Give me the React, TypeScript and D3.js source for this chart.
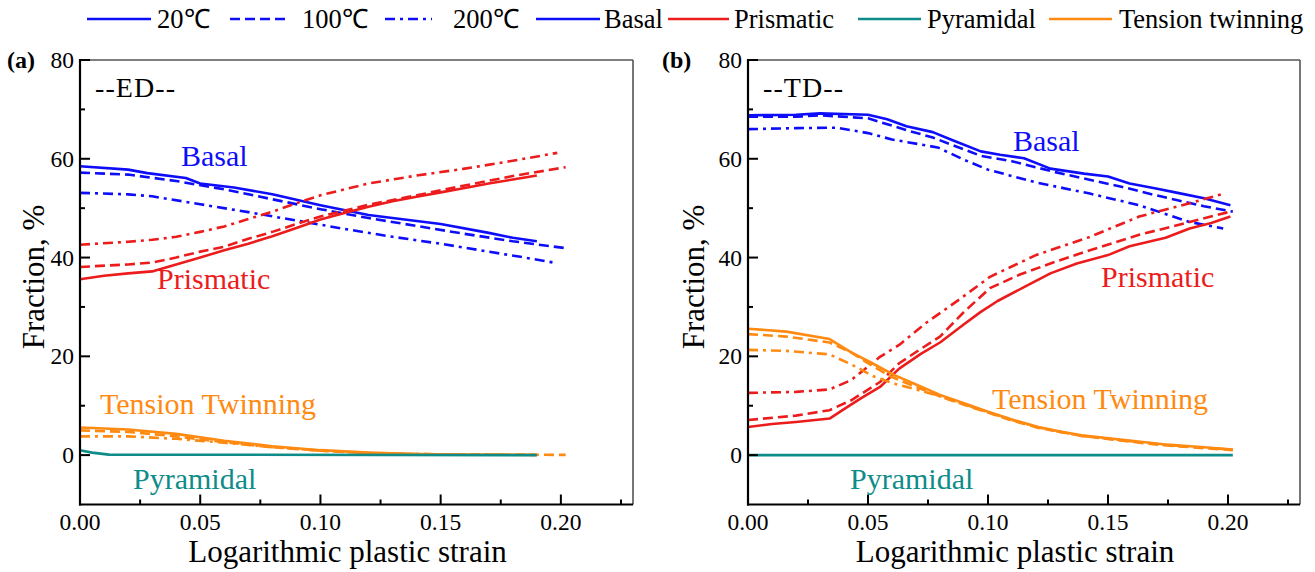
import React from "react";
import * as d3 from "d3";

// ---------- DATA ----------
const X_TICKS = [0, 0.05, 0.1, 0.15, 0.2];
const X_MINOR = [0.025, 0.075, 0.125, 0.175, 0.225];
const Y_TICKS = [0, 20, 40, 60, 80];
const Y_MINOR = [10, 30, 50, 70];

// (a) ED
const edBasal20: [number, number][] = [[0, 58.5], [0.02, 57.8], [0.028, 57.1], [0.044, 56.1], [0.05, 55], [0.064, 54.2], [0.08, 52.8], [0.1, 50.6], [0.12, 48.6], [0.14, 47.4], [0.15, 46.8], [0.17, 45], [0.18, 44], [0.19, 43.3]];
const edBasal100: [number, number][] = [[0, 57.2], [0.02, 56.8], [0.04, 55.5], [0.06, 53.8], [0.08, 51.8], [0.1, 49.8], [0.12, 48], [0.14, 46.4], [0.16, 44.8], [0.18, 43.3], [0.202, 41.9]];
const edBasal200: [number, number][] = [[0, 53.1], [0.02, 52.8], [0.03, 52.4], [0.05, 50.8], [0.07, 49.2], [0.09, 47.5], [0.11, 45.8], [0.13, 44.2], [0.15, 42.8], [0.17, 41.2], [0.185, 40], [0.198, 38.9]];
const edPrism20: [number, number][] = [[0, 35.6], [0.01, 36.3], [0.02, 36.8], [0.03, 37.2], [0.04, 38.6], [0.05, 40], [0.06, 41.5], [0.07, 42.8], [0.08, 44.3], [0.09, 46], [0.1, 47.7], [0.11, 49], [0.12, 50.3], [0.13, 51.4], [0.14, 52.3], [0.15, 53.2], [0.16, 54.1], [0.17, 55], [0.18, 55.8], [0.19, 56.6]];
const edPrism100: [number, number][] = [[0, 38.1], [0.02, 38.6], [0.03, 39], [0.04, 40], [0.05, 41.2], [0.06, 42.2], [0.07, 43.8], [0.08, 45.2], [0.09, 46.8], [0.1, 48.3], [0.12, 50.7], [0.14, 52.6], [0.16, 54.6], [0.18, 56.5], [0.202, 58.3]];
const edPrism200: [number, number][] = [[0, 42.6], [0.02, 43.2], [0.03, 43.6], [0.04, 44.2], [0.05, 45.2], [0.06, 46.3], [0.07, 47.8], [0.08, 49.3], [0.09, 51], [0.1, 52.6], [0.11, 53.8], [0.12, 55], [0.14, 56.6], [0.16, 58], [0.18, 59.6], [0.1985, 61.2]];
const edTwin20: [number, number][] = [[0, 5.6], [0.02, 5.2], [0.04, 4.3], [0.06, 2.9], [0.08, 1.8], [0.1, 1], [0.12, 0.5], [0.14, 0.2], [0.16, 0.1], [0.19, 0.05]];
const edTwin100: [number, number][] = [[0, 5], [0.02, 4.7], [0.04, 3.8], [0.06, 2.6], [0.08, 1.6], [0.1, 0.9], [0.12, 0.4], [0.14, 0.2], [0.17, 0.1], [0.202, 0.05]];
const edTwin200: [number, number][] = [[0, 3.8], [0.02, 3.8], [0.04, 3.3], [0.06, 2.5], [0.08, 1.6], [0.1, 0.9], [0.12, 0.4], [0.14, 0.2], [0.19, 0.05]];
const edPyr: [number, number][] = [[0, 1], [0.005, 0.5], [0.012, 0.1], [0.19, 0]];

// (b) TD
const tdBasal20: [number, number][] = [[0, 68.8], [0.02, 68.9], [0.03, 69.2], [0.05, 68.9], [0.058, 68], [0.066, 66.6], [0.077, 65.4], [0.085, 63.8], [0.097, 61.5], [0.105, 60.8], [0.115, 60.1], [0.126, 58], [0.14, 57], [0.15, 56.4], [0.159, 55], [0.17, 54], [0.179, 53.1], [0.19, 52], [0.201, 50.6]];
const tdBasal100: [number, number][] = [[0, 68.5], [0.02, 68.5], [0.03, 68.8], [0.05, 68.2], [0.066, 65.8], [0.077, 64.3], [0.085, 62.8], [0.097, 60.6], [0.11, 59.5], [0.128, 57.3], [0.14, 56], [0.156, 54.3], [0.17, 52.6], [0.179, 51.6], [0.19, 50.4], [0.202, 49.3]];
const tdBasal200: [number, number][] = [[0, 66], [0.02, 66.2], [0.037, 66.3], [0.05, 65.2], [0.06, 63.9], [0.079, 62.3], [0.09, 59.8], [0.1, 57.8], [0.12, 55.2], [0.142, 53], [0.163, 50.6], [0.184, 47.2], [0.198, 45.9]];
const tdPrism20: [number, number][] = [[0, 5.7], [0.01, 6.3], [0.02, 6.7], [0.034, 7.4], [0.04, 9.3], [0.047, 11.5], [0.055, 13.8], [0.063, 17.5], [0.072, 20.5], [0.08, 22.8], [0.09, 26.5], [0.097, 29], [0.104, 31.2], [0.115, 34], [0.126, 36.8], [0.137, 38.8], [0.15, 40.5], [0.159, 42.3], [0.174, 44], [0.184, 45.9], [0.193, 47], [0.201, 48.3]];
const tdPrism100: [number, number][] = [[0, 7.1], [0.02, 8], [0.034, 9.1], [0.043, 11.1], [0.055, 14.8], [0.063, 18.6], [0.072, 21.5], [0.08, 24], [0.09, 29], [0.1008, 33.8], [0.113, 36.5], [0.126, 38.8], [0.1425, 41.5], [0.163, 44.6], [0.184, 47.2], [0.201, 49.3]];
const tdPrism200: [number, number][] = [[0, 12.6], [0.02, 12.8], [0.034, 13.3], [0.043, 15.2], [0.055, 19.9], [0.063, 22.3], [0.074, 26.7], [0.088, 31.5], [0.1008, 36.1], [0.12, 40.5], [0.1425, 44.2], [0.163, 48.3], [0.184, 51], [0.198, 52.9]];
const tdTwin20: [number, number][] = [[0, 25.6], [0.016, 25], [0.034, 23.5], [0.043, 20.8], [0.051, 18.8], [0.061, 16.2], [0.07, 14.3], [0.08, 12.2], [0.09, 10.5], [0.1, 8.8], [0.11, 7.2], [0.121, 5.7], [0.13, 4.8], [0.139, 4], [0.156, 3.1], [0.173, 2.2], [0.19, 1.6], [0.202, 1.15]];
const tdTwin100: [number, number][] = [[0, 24.5], [0.016, 24], [0.034, 22.8], [0.043, 20.8], [0.051, 18.3], [0.06, 15.8], [0.07, 13.8], [0.08, 11.9], [0.09, 10.2], [0.1, 8.6], [0.11, 7], [0.121, 5.5], [0.13, 4.7], [0.139, 3.9], [0.156, 2.9], [0.173, 2], [0.19, 1.4], [0.202, 1]];
const tdTwin200: [number, number][] = [[0, 21.3], [0.016, 21.1], [0.034, 20.4], [0.045, 17.9], [0.052, 16], [0.06, 14.6], [0.07, 13.3], [0.08, 11.9], [0.09, 10.3], [0.1, 8.7], [0.11, 7.1], [0.121, 5.6], [0.13, 4.7], [0.139, 3.9], [0.156, 3], [0.173, 2.1], [0.19, 1.5], [0.202, 1.1]];
const tdPyr: [number, number][] = [[0, 0], [0.202, 0]];

const LEGEND_TEMPS = ["20\u2103", "100\u2103", "200\u2103"];
const LEGEND_MODES = ["Basal", "Prismatic", "Pyramidal", "Tension twinning"];

// ---------- STYLE ----------
const BLUE = "#0d0dfa";
const RED = "#ec1c1c";
const TEAL = "#0e8c89";
const ORANGE = "#ff8a12";
const FONT = "Liberation Serif, serif";
const DASH = ["", "10,5", "10,5,3,5"];
const LW = 2.6;

type Series = { data: [number, number][]; color: string; dash: string };

const panels = [
  {
    id: "a",
    left: 80, right: 633,
    tag: "(a)", tagX: 7, yTitleX: 44, dir: "--ED--",
    series: [
      { data: edTwin200, color: ORANGE, dash: DASH[2] },
      { data: edTwin100, color: ORANGE, dash: DASH[1] },
      { data: edTwin20, color: ORANGE, dash: DASH[0] },
      { data: edPyr, color: TEAL, dash: DASH[0] },
      { data: edBasal20, color: BLUE, dash: DASH[0] },
      { data: edBasal100, color: BLUE, dash: DASH[1] },
      { data: edBasal200, color: BLUE, dash: DASH[2] },
      { data: edPrism20, color: RED, dash: DASH[0] },
      { data: edPrism100, color: RED, dash: DASH[1] },
      { data: edPrism200, color: RED, dash: DASH[2] },
    ] as Series[],
    labels: [
      { t: "Basal", x: 181, y: 166, c: BLUE },
      { t: "Prismatic", x: 157, y: 289, c: RED },
      { t: "Tension Twinning", x: 100, y: 414, c: ORANGE },
      { t: "Pyramidal", x: 133, y: 489, c: TEAL },
    ],
  },
  {
    id: "b",
    left: 748, right: 1300,
    tag: "(b)", tagX: 662, yTitleX: 704, dir: "--TD--",
    series: [
      { data: tdPyr, color: TEAL, dash: DASH[0] },
      { data: tdBasal20, color: BLUE, dash: DASH[0] },
      { data: tdBasal100, color: BLUE, dash: DASH[1] },
      { data: tdBasal200, color: BLUE, dash: DASH[2] },
      { data: tdPrism20, color: RED, dash: DASH[0] },
      { data: tdPrism100, color: RED, dash: DASH[1] },
      { data: tdPrism200, color: RED, dash: DASH[2] },
      { data: tdTwin200, color: ORANGE, dash: DASH[2] },
      { data: tdTwin100, color: ORANGE, dash: DASH[1] },
      { data: tdTwin20, color: ORANGE, dash: DASH[0] },
    ] as Series[],
    labels: [
      { t: "Basal", x: 1013, y: 151, c: BLUE },
      { t: "Prismatic", x: 1101, y: 287, c: RED },
      { t: "Tension Twinning", x: 992, y: 409, c: ORANGE },
      { t: "Pyramidal", x: 850, y: 489, c: TEAL },
    ],
  },
];

const TOP = 60;
const BOTTOM = 504.5;

function T(props: any) {
  const { children, style, ...rest } = props;
  return (
    <text {...rest} style={{ fontFamily: FONT, ...(style || {}) }}>
      {children}
    </text>
  );
}

function Panel({ p }: { p: (typeof panels)[number] }) {
  const x = d3.scaleLinear().domain([0, 0.23]).range([p.left, p.right]);
  const y = d3.scaleLinear().domain([-10, 80]).range([BOTTOM, TOP]);
  const line = d3
    .line<[number, number]>()
    .x((d) => x(d[0]))
    .y((d) => y(d[1]));
  const cx = (p.left + p.right) / 2;
  return (
    <g>
      {p.series.map((s, i) => (
        <path
          key={i}
          d={line(s.data) || ""}
          fill="none"
          stroke={s.color}
          strokeWidth={LW}
          strokeDasharray={s.dash || undefined}
          strokeLinejoin="round"
        />
      ))}
      {/* frame */}
      <line x1={p.left} x2={p.right} y1={TOP} y2={TOP} stroke="#555" strokeWidth={1.6} />
      <line x1={p.right} x2={p.right} y1={TOP} y2={BOTTOM} stroke="#555" strokeWidth={1.6} />
      <line x1={p.left} x2={p.left} y1={TOP - 1} y2={BOTTOM + 1} stroke="#000" strokeWidth={2.2} />
      <line x1={p.left - 1} x2={p.right} y1={BOTTOM} y2={BOTTOM} stroke="#000" strokeWidth={2.2} />
      {X_TICKS.map((t) => (
        <g key={"xt" + t}>
          <line x1={x(t)} x2={x(t)} y1={BOTTOM} y2={BOTTOM - 10} stroke="#000" strokeWidth={2} />
          <T x={x(t)} y={BOTTOM + 25} textAnchor="middle" fontSize={23.5}>
            {d3.format(".2f")(t)}
          </T>
        </g>
      ))}
      {X_MINOR.map((t) => (
        <line key={"xm" + t} x1={x(t)} x2={x(t)} y1={BOTTOM} y2={BOTTOM - 5} stroke="#000" strokeWidth={2} />
      ))}
      {Y_TICKS.map((t) => (
        <g key={"yt" + t}>
          <line x1={p.left} x2={p.left + 10} y1={y(t)} y2={y(t)} stroke="#000" strokeWidth={2} />
          <T x={p.left - 6} y={y(t) + 8} textAnchor="end" fontSize={23.5}>
            {t}
          </T>
        </g>
      ))}
      {Y_MINOR.map((t) => (
        <line key={"ym" + t} x1={p.left} x2={p.left + 5} y1={y(t)} y2={y(t)} stroke="#000" strokeWidth={2} />
      ))}
      <T x={p.tagX} y={68} fontSize={24} fontWeight="bold">
        {p.tag}
      </T>
      <T x={p.left + 15} y={97} fontSize={28} textLength={80} lengthAdjust="spacing">
        {p.dir}
      </T>
      {p.labels.map((l) => (
        <T key={l.t} x={l.x} y={l.y} fontSize={30} fill={l.c}>
          {l.t}
        </T>
      ))}
      <T x={cx - 9} y={562} textAnchor="middle" fontSize={31}>
        Logarithmic plastic strain
      </T>
      <T transform={`translate(${p.yTitleX},${277}) rotate(-90)`} textAnchor="middle" fontSize={31}>
        Fraction, %
      </T>
    </g>
  );
}

function Legend() {
  const ly = 19;
  const tempItems = [
    { x1: 87, x2: 151, tx: 157 },
    { x1: 230, x2: 285, tx: 302 },
    { x1: 385, x2: 432, tx: 453 },
  ];
  const modeItems = [
    { x1: 536, x2: 600, tx: 604, c: BLUE },
    { x1: 668, x2: 729, tx: 734, c: RED },
    { x1: 858, x2: 921, tx: 927, c: TEAL },
    { x1: 1049, x2: 1112, tx: 1119, c: ORANGE },
  ];
  return (
    <g>
      {LEGEND_TEMPS.map((t, i) => (
        <g key={t}>
          <line
            x1={tempItems[i].x1}
            x2={tempItems[i].x2}
            y1={ly}
            y2={ly}
            stroke={BLUE}
            strokeWidth={2.6}
            strokeDasharray={DASH[i] || undefined}
          />
          <T x={tempItems[i].tx} y={28} fontSize={26.5}>
            {t}
          </T>
        </g>
      ))}
      {LEGEND_MODES.map((m, i) => (
        <g key={m}>
          <line x1={modeItems[i].x1} x2={modeItems[i].x2} y1={ly} y2={ly} stroke={modeItems[i].c} strokeWidth={2.6} />
          <T x={modeItems[i].tx} y={28} fontSize={26.5}>
            {m}
          </T>
        </g>
      ))}
    </g>
  );
}

export default function App() {
  return (
    <svg
      width={1315}
      height={572}
      viewBox="0 0 1315 572"
      style={{ position: "absolute", left: 0, top: 0, background: "#fff", fontFamily: FONT }}
    >
      <rect width={1315} height={572} fill="#fff" />
      <Legend />
      {panels.map((p) => (
        <Panel key={p.id} p={p} />
      ))}
    </svg>
  );
}
